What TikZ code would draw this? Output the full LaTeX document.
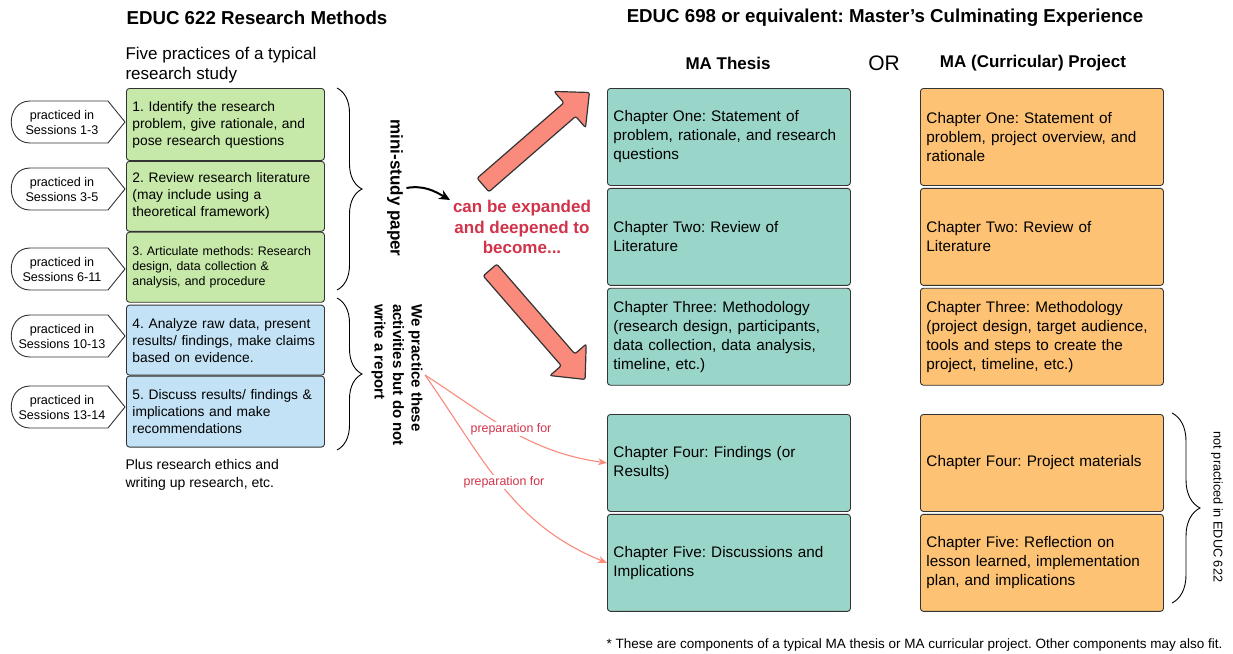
\documentclass[tikz,border=0pt]{standalone}
\usepackage{fontspec}
\setmainfont{Liberation Sans}
\usetikzlibrary{positioning,decorations.pathreplacing,arrows.meta}

\definecolor{boxline}{HTML}{333333}
\definecolor{greenbox}{HTML}{C6E8A8}
\definecolor{bluebox}{HTML}{C3E2F5}
\definecolor{tealbox}{HTML}{9AD5CA}
\definecolor{orangebox}{HTML}{FDC274}
\definecolor{salmon}{HTML}{F98A7C}
\definecolor{redtext}{HTML}{D0334A}

\begin{document}
\frenchspacing
\begin{tikzpicture}[x=1pt,y=-1pt,
  practice/.style={draw=boxline,line width=0.9pt,rounded corners=3pt,minimum height=70pt,
    text width=186pt,inner xsep=6pt,align=left,font=\fontsize{13.8}{17}\selectfont},
  chapter/.style={draw=boxline,line width=0.9pt,rounded corners=3pt,minimum height=97pt,
    text width=231pt,inner xsep=6pt,align=left,font=\fontsize{15.3}{19}\selectfont},
  callout/.style={draw=boxline,line width=0.9pt,fill=white},
  calltext/.style={align=center,font=\fontsize{12.6}{15}\selectfont},
  headbf/.style={font=\fontsize{18.7}{22}\selectfont\bfseries},
  colhead/.style={font=\fontsize{17}{20}\selectfont\bfseries},
  curly/.style={decorate,decoration={brace,amplitude=25pt},line width=0.9pt},
  prep/.style={draw=salmon,line width=1.1pt,-{Stealth[length=9pt,width=7pt]}},
  preplabel/.style={fill=white,inner sep=1pt,text=redtext,font=\fontsize{12.4}{14}\selectfont},
  bigarrow/.style={fill=salmon,draw=boxline,line width=1.2pt,rounded corners=2pt},
]
\useasboundingbox (0,0) rectangle (1233,653);

% headings
\node[headbf] (title1) at (257,18) {EDUC 622 Research Methods};
\node[headbf] (title2) at (885,18) {EDUC 698 or equivalent: Master’s Culminating Experience};
\node[font=\fontsize{17}{20}\selectfont,align=left,anchor=west] (five) at (122,65) {Five practices of a typical\\research study};
\node[colhead] (thesis) at (728,63) {MA Thesis};
\node[font=\fontsize{21}{24}\selectfont] (or) at (884,63) {OR};
\node[colhead] (project) at (1033,63) {MA (Curricular) Project};

% five practices
\node[practice,fill=greenbox,minimum height=72pt,anchor=north west] (p1) at (126,88) {1. Identify the research\\problem, give rationale, and\\pose research questions};
\node[practice,fill=greenbox,below=0pt of p1] (p2) {2. Review research literature\\(may include using a\\theoretical framework)};
\node[practice,fill=greenbox,below=0pt of p2,font=\fontsize{12.4}{15}\selectfont] (p3) {3. Articulate methods: Research\\design, data collection \&\\analysis, and procedure};
\node[practice,fill=bluebox,below=2pt of p3] (p4) {4. Analyze raw data, present\\results/ findings, make claims\\based on evidence.};
\node[practice,fill=bluebox,below=0pt of p4,minimum height=71pt] (p5) {5. Discuss results/ findings \&\\implications and make\\recommendations};
\node[font=\fontsize{14}{18}\selectfont,align=left,anchor=north west] (plus) at (122,456) {Plus research ethics and\\writing up research, etc.};

% sessions
\foreach \cy/\ses/\nm in {122/1-3/s1,189/3-5/s2,269/6-11/s3,336/10-13/s4,407/13-14/s5}{
  \draw[callout] (108,\cy-21) -- (30,\cy-21) .. controls (5,\cy-21) and (5,\cy+21) .. (30,\cy+21)
    -- (108,\cy+21) -- (125,\cy) -- cycle;
  \node[calltext] (\nm) at (62,\cy) {practiced in\\Sessions \ses};
}

% braces and side notes
\draw[curly] (337,88) -- (337,290);
\draw[curly] (337,298) -- (337,450);
\node[rotate=-90,font=\fontsize{17}{20}\selectfont\bfseries] (mini) at (395,188) {mini-study paper};
\node[rotate=-90,align=left,font=\fontsize{15}{18.5}\selectfont\bfseries] (practise) at (397,375) {We practice these\\activities but do not\\write a report};

\node[text=redtext,align=center,font=\fontsize{17}{20.5}\selectfont\bfseries] (expand) at (522,227) {can be expanded\\and deepened to\\become...};
\coordinate (a1) at (450,200);
\draw[line width=2pt,-{Stealth[length=11pt,width=10pt]}] (mini.north) to[out=10,in=150] (a1);

\begin{scope}[shift={(483,185)},rotate=41]
  \draw[bigarrow] (0,-9) -- (115,-9) -- (115,-24) -- (141,0) -- (115,24) -- (115,9) -- (0,9) -- cycle;
\end{scope}
\begin{scope}[shift={(490,270)},rotate=-49]
  \draw[bigarrow] (0,-9) -- (119,-9) -- (119,-24) -- (145,0) -- (119,24) -- (119,9) -- (0,9) -- cycle;
\end{scope}

% MA thesis
\node[chapter,fill=tealbox,anchor=north west] (t1) at (607,88) {Chapter One: Statement of\\problem, rationale, and research\\questions};
\node[chapter,fill=tealbox,below=2pt of t1] (t2) {Chapter Two: Review of\\Literature};
\node[chapter,fill=tealbox,below=2pt of t2] (t3) {Chapter Three: Methodology\\(research design, participants,\\data collection, data analysis,\\timeline, etc.)};
\node[chapter,fill=tealbox,anchor=north west] (t4) at (607,414) {Chapter Four: Findings (or\\Results)};
\node[chapter,fill=tealbox,below=2pt of t4] (t5) {Chapter Five: Discussions and\\Implications};

% MA project
\node[chapter,fill=orangebox,anchor=north west] (o1) at (920,88) {Chapter One: Statement of\\problem, project overview, and\\rationale};
\node[chapter,fill=orangebox,below=2pt of o1] (o2) {Chapter Two: Review of\\Literature};
\node[chapter,fill=orangebox,below=2pt of o2] (o3) {Chapter Three: Methodology\\(project design, target audience,\\tools and steps to create the\\project, timeline, etc.)};
\node[chapter,fill=orangebox,anchor=north west] (o4) at (920,414) {Chapter Four: Project materials};
\node[chapter,fill=orangebox,below=2pt of o4] (o5) {Chapter Five: Reflection on\\lesson learned, implementation\\plan, and implications};

\draw[curly,decoration={amplitude=28pt}] (1172,413) -- (1172,603);
\node[rotate=-90,font=\fontsize{12.7}{15}\selectfont] (notpr) at (1217,507) {not practiced in EDUC 622};

% preparation links
\coordinate (src) at (425,375);
\draw[prep] (src) to[out=-33,in=172] (t4.west);
\draw[prep] (src) to[out=-55,in=158] (t5.west);
\node[preplabel] (prep1) at (511,429) {preparation for};
\node[preplabel] (prep2) at (504,482) {preparation for};

\node[font=\fontsize{13.5}{15}\selectfont,anchor=west] (note) at (603,645) {* These are components of a typical MA thesis or MA curricular project. Other components may also fit.};
\end{tikzpicture}
\end{document}
